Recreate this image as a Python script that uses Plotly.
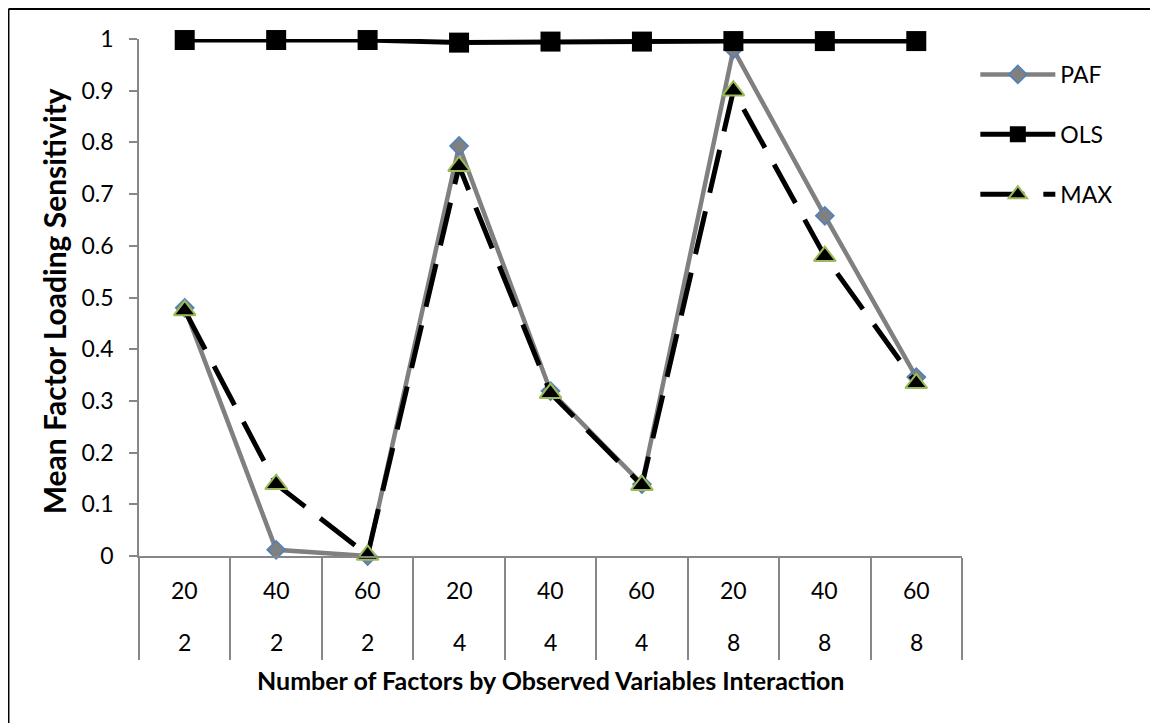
import plotly.graph_objects as go

# ---- data ----
observed_vars = ["20", "40", "60", "20", "40", "60", "20", "40", "60"]
num_factors = ["2", "2", "2", "4", "4", "4", "8", "8", "8"]
paf = [0.480, 0.012, 0.000, 0.793, 0.319, 0.139, 0.980, 0.658, 0.346]
ols = [0.998, 0.998, 0.998, 0.993, 0.995, 0.995, 0.996, 0.996, 0.996]
mx = [0.475, 0.139, 0.002, 0.754, 0.315, 0.137, 0.900, 0.580, 0.334]
y_ticks = [0, 0.1, 0.2, 0.3, 0.4, 0.5, 0.6, 0.7, 0.8, 0.9, 1]
y_tick_text = ["0", "0.1", "0.2", "0.3", "0.4", "0.5", "0.6", "0.7", "0.8", "0.9", "1"]

FONT = "Lato"
GRAY_AX = "#878787"
xpos = [i + 0.5 for i in range(len(observed_vars))]

fig = go.Figure()
fig.add_trace(go.Scatter(
    x=xpos, y=paf, name="PAF", mode="lines+markers", legendgroup="a",
    line=dict(color="#808080", width=4.5),
    marker=dict(symbol="diamond", size=14, color="#808080",
                line=dict(color="#4F81BD", width=1.5)),
    cliponaxis=False))
fig.add_trace(go.Scatter(
    x=xpos, y=ols, name="OLS", mode="lines+markers", legendgroup="b",
    line=dict(color="#000000", width=5),
    marker=dict(symbol="square", size=20, color="#000000",
                line=dict(color="#000000", width=0)),
    cliponaxis=False))
fig.add_trace(go.Scatter(
    x=xpos, y=mx, name="MAX", mode="lines+markers", legendgroup="c",
    line=dict(color="#000000", width=5, dash="44px,19px"),
    marker=dict(symbol="triangle-up", size=19, color="#000000",
                line=dict(color="#9BBB59", width=2)),
    cliponaxis=False))

TICK_SIZE = 23
# category labels (two levels)
for xv, ov, nf in zip(xpos, observed_vars, num_factors):
    fig.add_annotation(x=xv, y=-0.0664, xref="x", yref="paper", text=ov,
                       showarrow=False, font=dict(family=FONT, size=TICK_SIZE, color="#000"),
                       xanchor="center", yanchor="middle")
    fig.add_annotation(x=xv, y=-0.167, xref="x", yref="paper", text=nf,
                       showarrow=False, font=dict(family=FONT, size=TICK_SIZE, color="#000"),
                       xanchor="center", yanchor="middle")

# axis titles
fig.add_annotation(x=0.5, y=-0.2406, xref="paper", yref="paper",
                   text="<b>Number of Factors by Observed Variables Interaction</b>",
                   showarrow=False, font=dict(family=FONT, size=25, color="#000"),
                   xanchor="center", yanchor="middle")
fig.add_annotation(x=-0.1030, y=0.493, xref="paper", yref="paper",
                   text="<b>Mean Factor Loading Sensitivity</b>", textangle=-90,
                   showarrow=False, font=dict(family=FONT, size=30, color="#000"),
                   xanchor="center", yanchor="middle")

# outer chart border (left and top edges visible)
fig.add_shape(type="line", xref="paper", yref="paper", x0=-0.1586, x1=-0.1586,
              y0=1.058, y1=-0.5, line=dict(color="#000", width=2))
fig.add_shape(type="line", xref="paper", yref="paper", x0=-0.1586, x1=1.4,
              y0=1.058, y1=1.058, line=dict(color="#000", width=2))

fig.update_layout(
    width=1150, height=715,
    margin=dict(l=131, r=196, t=31, b=167, pad=0),
    paper_bgcolor="white", plot_bgcolor="white",
    font=dict(family=FONT, size=TICK_SIZE, color="#000"),
    showlegend=True,
    legend=dict(x=1.0162, y=0.973, xanchor="left", yanchor="top",
                font=dict(family=FONT, size=TICK_SIZE, color="#000"),
                tracegroupgap=27, itemwidth=75, bgcolor="rgba(0,0,0,0)"),
    xaxis=dict(range=[0, 9], tickmode="array", tickvals=list(range(10)),
               ticktext=[""] * 10, ticks="outside", ticklen=102, tickwidth=1.5,
               tickcolor=GRAY_AX, showline=True, linecolor=GRAY_AX, linewidth=1.5,
               showgrid=False, zeroline=False, fixedrange=True),
    yaxis=dict(range=[0, 1], tickmode="array", tickvals=y_ticks, ticktext=y_tick_text,
               ticks="outside", ticklen=8, tickwidth=1.5, tickcolor=GRAY_AX,
               showline=True, linecolor=GRAY_AX, linewidth=1.5, showgrid=False,
               zeroline=False, ticklabelstandoff=11,
               tickfont=dict(family=FONT, size=TICK_SIZE, color="#000")),
)

fig.write_html("out.html")
